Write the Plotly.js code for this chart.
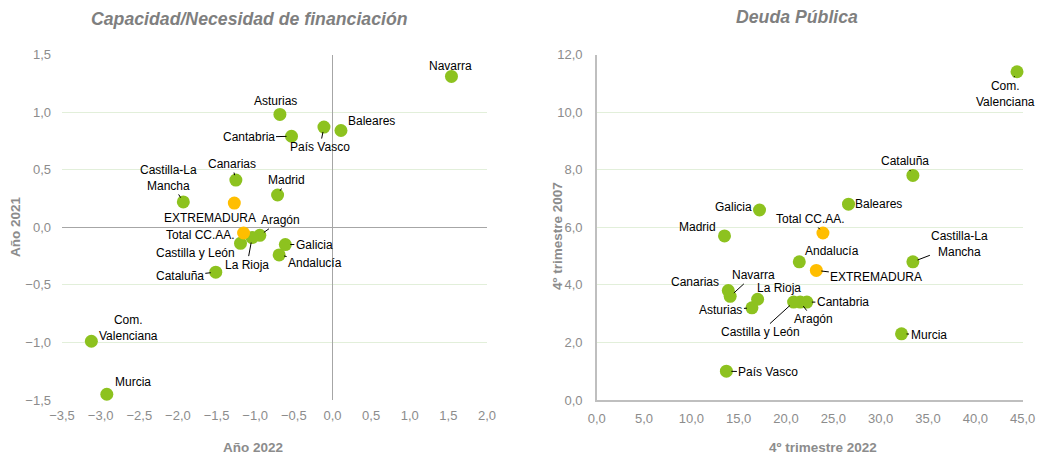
<!DOCTYPE html>
<html><head><meta charset="utf-8">
<script src="https://cdn.plot.ly/plotly-3.0.1.min.js"></script>
<style>body{margin:0;background:#fff}#c{width:1040px;height:456px}</style>
</head><body><div id="c"></div>
<script>
// ---- data ----
const regions = ["Navarra","Asturias","Cantabria","País Vasco","Baleares","Canarias","Madrid","Castilla-La Mancha","EXTREMADURA","Total CC.AA.","Aragón","La Rioja","Castilla y León","Galicia","Andalucía","Cataluña","Com. Valenciana","Murcia"];
const capacidad2022 = [1.54,-0.68,-0.53,-0.11,0.11,-1.25,-0.71,-1.93,-1.27,-1.15,-0.94,-1.04,-1.19,-0.61,-0.69,-1.51,-3.12,-2.92];
const capacidad2021 = [1.31,0.98,0.79,0.87,0.84,0.41,0.28,0.22,0.21,-0.05,-0.07,-0.09,-0.14,-0.15,-0.24,-0.39,-0.99,-1.45];
const deuda2022 = [14.1,16.4,22.2,13.7,26.6,13.9,13.5,33.4,23.2,23.9,21.5,17.0,20.8,17.2,21.4,33.4,44.4,32.2];
const deuda2007 = [3.6,3.2,3.4,1.0,6.8,3.8,5.7,4.8,4.5,5.8,3.4,3.5,3.4,6.6,4.8,7.8,11.4,2.3];
const highlighted = ["EXTREMADURA","Total CC.AA."];

// ---- label placement (pixel offsets of text centre from point; last = leader line) ----
const labelLeft = {
  "Navarra":[-1,-10,0],"Asturias":[-4,-13,1],"Cantabria":[-43,1,1],"País Vasco":[-4,20,1],
  "Baleares":[31,-10,0],"Canarias":[-4,-16,1],"Madrid":[9,-15,1],"Castilla-La Mancha":[-15,-24,1],
  "EXTREMADURA":[-24,15,0],"Total CC.AA.":[-43,2,0],"Aragón":[21,-15,1],"La Rioja":[-5,27,1],
  "Castilla y León":[-45,10,0],"Galicia":[29,0,1],"Andalucía":[36,8,1],"Cataluña":[-36,4,1],
  "Com. Valenciana":[37,-13,0],"Murcia":[26,-12,0]
};
const labelRight = {
  "Com. Valenciana":[-12,22,1],"Cataluña":[-8,-14,1],"Baleares":[30,0,0],"Galicia":[-26,-3,0],
  "Total CC.AA.":[-12,-14,1],"Madrid":[-27,-9,0],"Andalucía":[33,-11,0],"Castilla-La Mancha":[47,-18,1],
  "EXTREMADURA":[60,7,1],"Canarias":[-33,-9,0],"Navarra":[23,-21,1],"La Rioja":[21,-11,0],
  "Asturias":[-31,2,1],"Castilla y León":[-33,30,1],"Aragón":[13,17,1],"Cantabria":[36,0,1],
  "Murcia":[27,1,1],"País Vasco":[42,1,1]
};

const GREEN = "#8DC21F", ORANGE = "#FFBE00";
const GRID = "#E2EFDA", AXIS = "#BFBFBF", TICK = "#8C8C8C";
const FONT = "Liberation Sans, Arial, sans-serif";

function disp(n){ return n.replace("Castilla-La ","Castilla-La<br>").replace("Com. ","Com.<br>"); }

function traces(xs, ys, xa, ya){
  const g = i => highlighted.includes(regions[i]);
  const idxG = regions.map((_,i)=>i).filter(i=>!g(i));
  const idxO = regions.map((_,i)=>i).filter(i=>g(i));
  return [idxG, idxO].map((idx,k)=>({
    type:"scatter", mode:"markers", xaxis:xa, yaxis:ya,
    x: idx.map(i=>xs[i]), y: idx.map(i=>ys[i]),
    marker:{size:13, color: k===0?GREEN:ORANGE},
    hoverinfo:"skip", showlegend:false, cliponaxis:false
  }));
}
function labels(xs, ys, xr, yr, place){
  return regions.map((n,i)=>{
    const p = place[n];
    return {x:xs[i], y:ys[i], xref:xr, yref:yr, text:disp(n), showarrow:true,
      ax:p[0], ay:p[1], arrowhead:0, arrowwidth:1, standoff:5,
      arrowcolor: p[2] ? "#000" : "rgba(0,0,0,0)",
      font:{family:FONT, size:12, color:"#000"}, align:"center"};
  });
}

const data = [
  ...traces(capacidad2022, capacidad2021, "x", "y"),
  ...traces(deuda2022, deuda2007, "x2", "y2")
];

function pa(px,py){ return {x:px/1040, y:1-py/456, xref:"paper", yref:"paper", xanchor:"center", yanchor:"middle", showarrow:false}; }
const titleFont = {family:FONT, size:17.7, color:"#7F7F7F"};
const axTitleFont = {family:FONT, size:13.5, color:"#8C8C8C"};
const annots = [
  ...labels(capacidad2022, capacidad2021, "x", "y", labelLeft),
  ...labels(deuda2022, deuda2007, "x2", "y2", labelRight),
  {...pa(249,19), text:"<b><i>Capacidad/Necesidad de financiación</i></b>", font:titleFont},
  {...pa(797,17), text:"<b><i>Deuda Pública</i></b>", font:titleFont},
  {...pa(253,447), text:"<b>Año 2022</b>", font:axTitleFont},
  {...pa(16,227), text:"<b>Año 2021</b>", textangle:-90, font:axTitleFont},
  {...pa(823,447), text:"<b>4º trimestre 2022</b>", font:axTitleFont},
  {...pa(557,236), text:"<b>4º trimestre 2007</b>", textangle:-90, font:axTitleFont}
];

const tickFont = {family:FONT, size:13, color:TICK};
const layout = {
  width:1040, height:456, margin:{l:0,r:0,t:0,b:0},
  paper_bgcolor:"#fff", plot_bgcolor:"#fff", separators:",.",
  font:{family:FONT},
  xaxis:{domain:[62/1040,487/1040], anchor:"y", range:[-3.5,2], dtick:0.5, tick0:-3.5, tickformat:".1f",
    showgrid:false, zeroline:true, zerolinecolor:"#A6A6A6", zerolinewidth:1, showline:false,
    tickfont:tickFont, ticks:"", ticklabelstandoff:6, fixedrange:true},
  yaxis:{domain:[1-400/456,1-54.5/456], anchor:"x", range:[-1.5,1.5], dtick:0.5, tickformat:".1f",
    showgrid:true, gridcolor:GRID, gridwidth:1, zeroline:true, zerolinecolor:"#A6A6A6", zerolinewidth:1, showline:false,
    tickfont:tickFont, ticks:"", ticklabelstandoff:10, fixedrange:true},
  xaxis2:{domain:[596.7/1040,1022.7/1040], anchor:"y2", range:[0,45], dtick:5, tickformat:".1f",
    showgrid:false, zeroline:false, showline:true, linecolor:AXIS, linewidth:1.5,
    tickfont:tickFont, ticks:"", ticklabelstandoff:6, fixedrange:true},
  yaxis2:{domain:[1-400/456,1-54.5/456], anchor:"x2", range:[0,12], dtick:2, tickformat:".1f",
    showgrid:true, gridcolor:GRID, gridwidth:1, zeroline:false, showline:true, linecolor:AXIS, linewidth:1.5,
    tickfont:tickFont, ticks:"", ticklabelstandoff:10, fixedrange:true},
  annotations: annots
};
Plotly.newPlot("c", data, layout, {displayModeBar:false, staticPlot:true});
</script></body></html>
